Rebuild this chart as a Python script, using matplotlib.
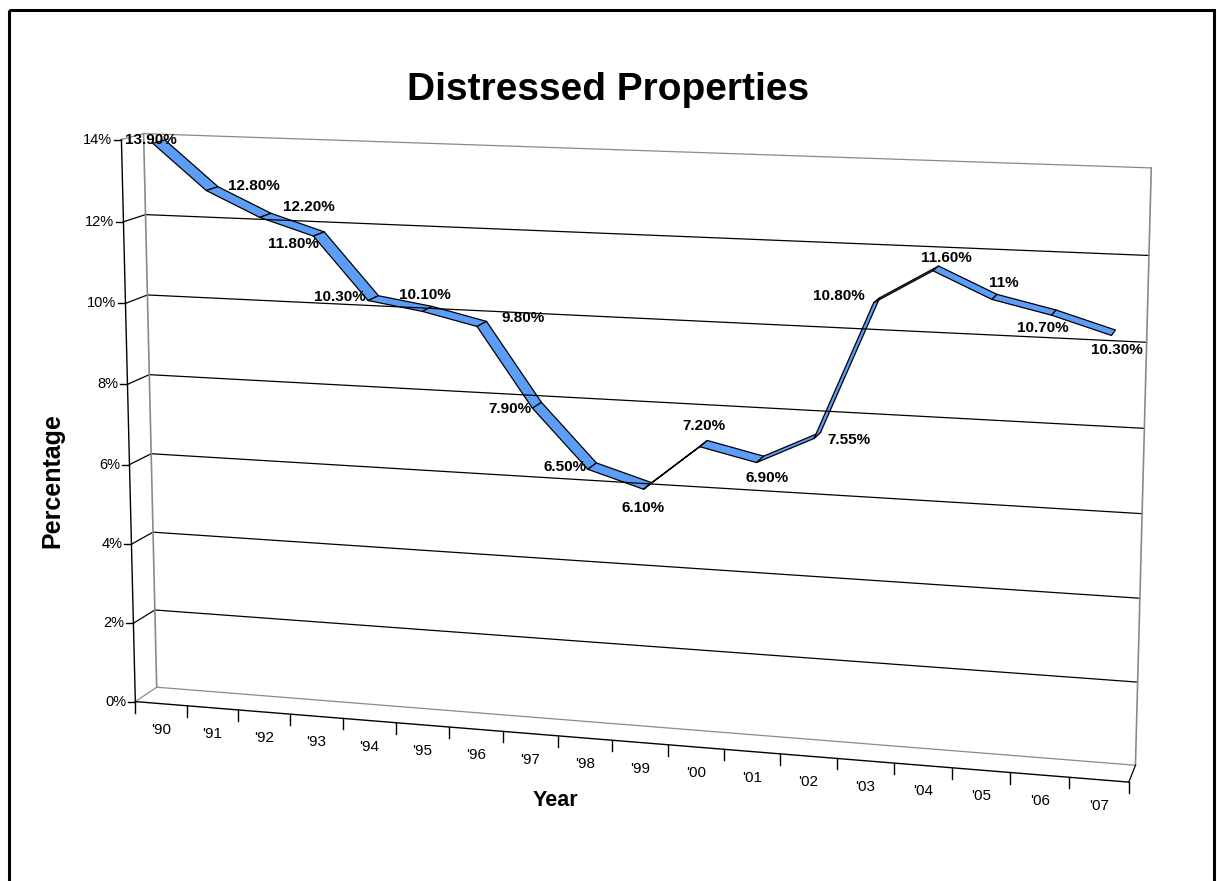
import numpy as np
import matplotlib
matplotlib.use("Agg")
import matplotlib.pyplot as plt
import matplotlib.transforms as mtransforms
from matplotlib.patches import Polygon, Rectangle

plt.rcParams['font.family'] = ['Liberation Sans', 'DejaVu Sans']

# data
years = ["'90", "'91", "'92", "'93", "'94", "'95", "'96", "'97", "'98",
         "'99", "'00", "'01", "'02", "'03", "'04", "'05", "'06", "'07"]
pct = [13.9, 12.8, 12.2, 11.8, 10.3, 10.1, 9.8, 7.9, 6.5,
       6.1, 7.2, 6.9, 7.55, 10.8, 11.6, 11.0, 10.7, 10.3]
pct_labels = ["13.90%", "12.80%", "12.20%", "11.80%", "10.30%", "10.10%",
              "9.80%", "7.90%", "6.50%", "6.10%", "7.20%", "6.90%", "7.55%",
              "10.80%", "11.60%", "11%", "10.70%", "10.30%"]
yticks = [0, 2, 4, 6, 8, 10, 12, 14]
ytick_labels = ["0%", "2%", "4%", "6%", "8%", "10%", "12%", "14%"]

# label placement (pixel offsets from the point, image y down)
lab_off = [(-8, -2), (42, -3), (43, -8), (-25, 10), (-33, -1), (-2, -14),
           (41, -6), (-27, 4), (-27, 1), (-5, 22), (0, -18), (7, 19),
           (32, 5), (-38, -4), (11, -10), (9, -14), (-11, 15), (3, 17)]

W, H = 1217, 881
n = len(years)
ymax = 14

# ---- fit a simple perspective camera to the wall corners (pixel space)
world = np.array([[0, 0, 0], [0, ymax, 0], [n, 0, 0], [n, ymax, 0],
                  [0, 0, 1], [0, ymax, 1], [n, 0, 1], [n, ymax, 1],
                  [1, 0, 0], [2, 0, 0], [3, 0, 0], [4, 0, 0],
                  [15, 0, 0], [16, 0, 0], [17, 0, 0]], float)
pix = np.array([[135, 702], [122, 139], [1129, 782], [1145, 175],
                [157, 687], [143, 134], [1136, 765], [1151, 168],
                [187, 706], [238, 710], [290, 714], [343, 718],
                [952, 768], [1010, 773], [1069, 777]], float)


def fit_camera(world, pix):
    S = np.diag([1 / n, 1 / ymax, 1.0, 1.0])
    T = np.diag([1 / 1000, 1 / 1000, 1.0])
    wn = np.column_stack([world, np.ones(len(world))]) @ S.T
    pn = pix / 1000
    rows = []
    for (X, Y, Z, O), (u, v) in zip(wn, pn):
        rows.append([X, Y, Z, O, 0, 0, 0, 0, -u * X, -u * Y, -u * Z, -u])
        rows.append([0, 0, 0, 0, X, Y, Z, O, -v * X, -v * Y, -v * Z, -v])
    _, _, vt = np.linalg.svd(np.array(rows))
    Pn = vt[-1].reshape(3, 4)
    return np.linalg.inv(T) @ Pn @ S


P = fit_camera(world, pix)


class Persp(mtransforms.Transform):
    """(category, percent) at a fixed depth -> pixel position"""
    input_dims = 2
    output_dims = 2
    is_separable = False
    has_inverse = False

    def __init__(self, P, z):
        super().__init__()
        self.P = P
        self.z = z

    def transform_non_affine(self, values):
        v = np.asarray(values, float).reshape(-1, 2)
        w = np.column_stack([v[:, 0], v[:, 1], np.full(len(v), self.z),
                             np.ones(len(v))])
        h = w @ self.P.T
        return h[:, :2] / h[:, 2:3]


front = Persp(P, 0.0)
back = Persp(P, 1.0)

fig = plt.figure(figsize=(W / 100, H / 100), dpi=100)
ax = fig.add_axes([0, 0, 1, 1])
ax.set_xlim(0, W)
ax.set_ylim(H, 0)
ax.axis('off')

gray = '#8a8a8a'

# back wall gridlines
for yv in yticks:
    col = gray if yv in (0, ymax) else 'black'
    ax.plot([0, n], [yv, yv], color=col, lw=0.9, transform=back + ax.transData)
    # side wall
    a = front.transform([[0, yv]])[0]
    b = back.transform([[0, yv]])[0]
    ax.plot([a[0], b[0]], [a[1], b[1]], color=col, lw=0.9)

# back wall vertical edges
ax.plot([0, 0], [0, ymax], color=gray, lw=1.2, transform=back + ax.transData)
ax.plot([n, n], [0, ymax], color=gray, lw=1.2, transform=back + ax.transData)

# floor right edge and front edge
a = front.transform([[n, 0]])[0]
b = back.transform([[n, 0]])[0]
ax.plot([a[0], b[0]], [a[1], b[1]], color='black', lw=0.9)
ax.plot([0, n], [0, 0], color='black', lw=1.0, transform=front + ax.transData)

# value axis
ax.plot([0, 0], [0, ymax], color='black', lw=1.0, transform=front + ax.transData)
for yv, lab in zip(yticks, ytick_labels):
    p = front.transform([[0, yv]])[0]
    ax.plot([p[0] - 7, p[0]], [p[1], p[1]], color='black', lw=1.0)
    ax.annotate(lab, xy=p, xytext=(-9, 0), textcoords='offset pixels',
                ha='right', va='center', fontsize=10.5)

# category ticks and labels
for i in range(n + 1):
    p = front.transform([[i, 0]])[0]
    ax.plot([p[0], p[0]], [p[1], p[1] + 11], color='black', lw=1.0)
for i, lab in enumerate(years):
    p = front.transform([[i + 0.5, 0]])[0]
    ax.annotate(lab, xy=p, xytext=(0, -26), textcoords='offset pixels',
                ha='center', va='center', fontsize=11)

# ribbon
xs = np.arange(n) + 0.5
pts = np.column_stack([xs, pct])
near = Persp(P, 0.22).transform(pts)
far = Persp(P, 0.78).transform(pts)
for i in range(n - 1):
    quad = [near[i], near[i + 1], far[i + 1], far[i]]
    ax.add_patch(Polygon(quad, closed=True, facecolor='#5c9ef7',
                         edgecolor='black', lw=0.9, joinstyle='round'))

# data labels
mid = Persp(P, 0.5).transform(pts)
for p, lab, (dx, dy) in zip(mid, pct_labels, lab_off):
    ax.annotate(lab, xy=p, xytext=(dx, -dy), textcoords='offset pixels',
                ha='center', va='center', fontsize=11, fontweight='bold')

# titles
ax.text(608, 100, 'Distressed Properties', ha='center', va='baseline',
        fontsize=28, fontweight='bold')
ax.text(555, 800, 'Year', ha='center', va='center', fontsize=15.5,
        fontweight='bold')
ax.text(52, 481, 'Percentage', ha='center', va='center', rotation=90,
        fontsize=18, fontweight='bold')

# chart border
ax.add_patch(Rectangle((9, 10), 1205, 900, fill=False, edgecolor='black',
                       lw=2.2))

fig.savefig('out.png', dpi=100)
